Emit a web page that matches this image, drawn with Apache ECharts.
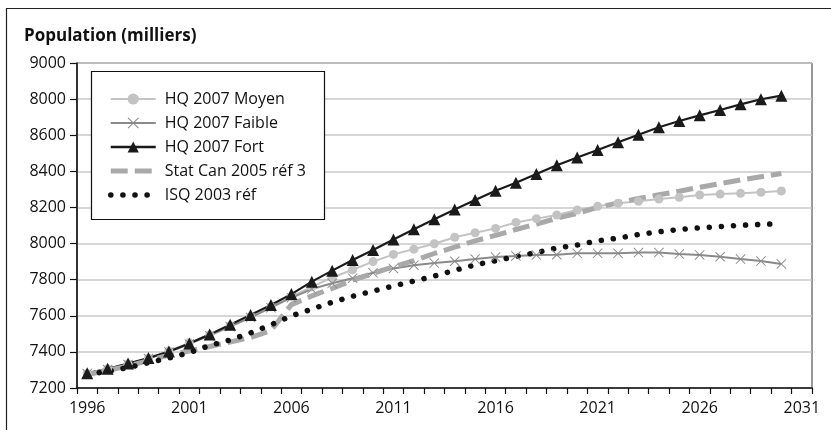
<!DOCTYPE html>
<html>
<head>
<meta charset="utf-8">
<script src="https://cdn.jsdelivr.net/npm/echarts@6/dist/echarts.min.js"></script>
<style>
html,body{margin:0;padding:0;background:#fff;}
#chart{width:831px;height:430px;}
</style>
</head>
<body>
<div id="chart"></div>
<script>
const years = ['1996','1997','1998','1999','2000','2001','2002','2003','2004','2005','2006','2007','2008','2009','2010','2011','2012','2013','2014','2015','2016','2017','2018','2019','2020','2021','2022','2023','2024','2025','2026','2027','2028','2029','2030','2031'];
const yTickLabels = ['7200','7400','7600','7800','8000','8200','8400','8600','8000','9000'];
const titleText = 'Population (milliers)';
const names = ['HQ 2007 Moyen','HQ 2007 Faible','HQ 2007 Fort','Stat Can 2005 réf 3','ISQ 2003 réf'];

const hqMoyen = [7280,7305,7335,7365,7405,7450,7495,7545,7595,7650,7706,7760,7812,7855,7900,7940,7969,7999,8035,8060,8084,8117,8138,8158,8186,8206,8223,8234,8247,8256,8269,8274,8278,8284,8291];
const hqFaible = [7280,7302,7330,7363,7400,7444,7490,7540,7590,7645,7700,7748,7780,7808,7838,7862,7880,7892,7902,7914,7925,7931,7936,7938,7946,7946,7946,7950,7950,7942,7937,7927,7914,7903,7887];
const hqFort = [7282,7306,7336,7366,7402,7447,7497,7550,7605,7660,7720,7789,7850,7909,7964,8023,8079,8134,8188,8241,8293,8337,8385,8434,8477,8518,8561,8603,8644,8679,8710,8740,8771,8799,8819];
const statCan = [7275,7297,7322,7352,7382,7405,7430,7455,7480,7518,7662,7710,7752,7797,7835,7872,7905,7945,7980,8015,8045,8078,8108,8140,8167,8200,8225,8250,8270,8290,8312,8332,8352,8370,8388];
const isq = [7275,7292,7313,7340,7366,7396,7435,7466,7505,7550,7600,7637,7675,7708,7737,7765,7792,7820,7852,7882,7905,7928,7950,7975,7992,8015,8030,8050,8065,8078,8087,8094,8101,8106,8110];

const FONT = '"Open Sans", "DejaVu Sans", sans-serif';
const crossPath = 'path://M0,1.3 L1.3,0 L10,8.7 L18.7,0 L20,1.3 L11.3,10 L20,18.7 L18.7,20 L10,11.3 L1.3,20 L0,18.7 L8.7,10 Z';

const chart = echarts.init(document.getElementById('chart'), null, {renderer:'canvas'});
chart.setOption({
  animation: false,
  backgroundColor: '#fff',
  textStyle: {fontFamily: FONT},
  title: {
    text: titleText, left: 24, top: 28, padding: 0,
    textStyle: {fontFamily: FONT, fontSize: 17, fontWeight: 'bold', color: '#111'}
  },
  graphic: [{
    type: 'polyline', silent: true, z: 1,
    shape: {points: [[6.5,430],[6.5,8.5],[831,8.5]]},
    style: {stroke: '#222', lineWidth: 1.2, fill: null}
  }, {
    type: 'rect', silent: true, z: 1,
    shape: {x: 91.5, y: 71.5, width: 233, height: 148},
    style: {stroke: '#111', lineWidth: 1.2, fill: '#fff'}
  }],
  grid: {left: 77, right: 19, top: 63, bottom: 42, show: true, borderColor: '#333', borderWidth: 1, backgroundColor: 'transparent'},
  legend: {
    orient: 'vertical', left: 91, top: 71,
    padding: [20, 5, 5, 17],
    itemWidth: 45, itemHeight: 14, itemGap: 8,
    borderWidth: 0, backgroundColor: 'transparent', z: 5,
    textStyle: {fontFamily: FONT, fontSize: 16, color: '#111', padding: [0,0,0,4]},
    data: [
      {name: names[0], lineStyle: {width: 2}},
      {name: names[1], lineStyle: {width: 2}},
      {name: names[2], lineStyle: {width: 2.4}},
      {name: names[3], itemStyle: {opacity: 0}, lineStyle: {width: 5}},
      {name: names[4], itemStyle: {opacity: 0}, lineStyle: {width: 5.5}}
    ]
  },
  xAxis: {
    type: 'category', data: years, boundaryGap: true,
    axisLine: {lineStyle: {color: '#111', width: 1.5}},
    axisTick: {show: true, interval: 0, length: 6, lineStyle: {color: '#111', width: 1.2}},
    axisLabel: {interval: 4, color: '#111', fontSize: 16, fontFamily: FONT, margin: 12},
    splitLine: {show: false}
  },
  yAxis: {
    type: 'value', min: 7200, max: 9000, interval: 200,
    axisLine: {show: true, lineStyle: {color: '#111', width: 1.5}},
    axisTick: {show: true, length: 7, lineStyle: {color: '#111', width: 1.2}},
    axisLabel: {color: '#111', fontSize: 16, fontFamily: FONT, margin: 11,
      formatter: function(v){ return yTickLabels[Math.round((v-7200)/200)]; }},
    splitLine: {show: true, lineStyle: {color: '#c8c8c8', width: 1.5}}
  },
  series: [
    {name: names[0], type: 'line', data: hqMoyen, symbol: 'circle', symbolSize: 9,
     lineStyle: {color: '#c3c3c3', width: 2}, itemStyle: {color: '#c3c3c3'}},
    {name: names[1], type: 'line', data: hqFaible, symbol: crossPath, symbolSize: 10,
     lineStyle: {color: '#8a8a8a', width: 2}, itemStyle: {color: '#8a8a8a'}},
    {name: names[2], type: 'line', data: hqFort, symbol: 'triangle', symbolSize: 12,
     lineStyle: {color: '#1a1a1a', width: 2.2}, itemStyle: {color: '#1a1a1a'}},
    {name: names[3], type: 'line', data: statCan, symbol: 'none', showSymbol: false,
     lineStyle: {color: '#a9a9a9', width: 5, type: [17, 7]}, itemStyle: {color: '#a9a9a9'}},
    {name: names[4], type: 'line', data: isq, symbol: 'none', showSymbol: false,
     lineStyle: {color: '#111', width: 5.5, type: [0.1, 12], cap: 'round'}, itemStyle: {color: '#111'}}
  ]
});
</script>
</body>
</html>
